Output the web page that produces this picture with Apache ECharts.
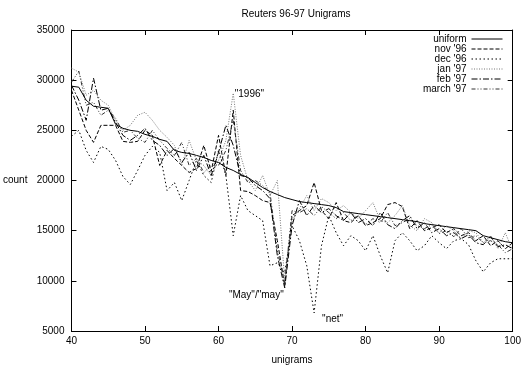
<!DOCTYPE html>
<html lang="en">
  <head>
    <meta charset="UTF-8" />
    <title>Reuters 96-97 Unigrams</title>
    <script src="https://cdn.jsdelivr.net/npm/echarts@6/dist/echarts.min.js"></script>
    <style>
      html, body { margin: 0; padding: 0; background: #fff; }
      #chart { width: 524px; height: 370px; }
    </style>
  </head>
  <body>
    <div id="chart"></div>
    <script>
      // rank on x axis
      const ranks = [40, 41, 42, 43, 44, 45, 46, 47, 48, 49, 50, 51, 52, 53, 54, 55, 56, 57, 58, 59,
        60, 61, 62, 63, 64, 65, 66, 67, 68, 69, 70, 71, 72, 73, 74, 75, 76, 77, 78, 79,
        80, 81, 82, 83, 84, 85, 86, 87, 88, 89, 90, 91, 92, 93, 94, 95, 96, 97, 98, 99, 100];

      const uniform = [29400, 29300, 28000, 27400, 27300, 27200, 25600, 25200, 25000, 24900,
        24600, 24400, 24100, 23900, 23000, 22800, 22700, 22500, 22300, 22000,
        21800, 21300, 21000, 20600, 20300, 19800, 19300, 18900, 18600, 18300,
        18100, 17900, 17800, 17700, 17600, 17500, 17300, 16900, 16800, 16700,
        16600, 16500, 16400, 16300, 16200, 16100, 16000, 15900, 15700, 15600,
        15500, 15400, 15300, 15200, 15100, 15000, 14500, 14300, 14100, 13900, 13800];

      const nov96 = [29000, 27000, 25000, 23800, 25500, 25500, 25500, 23900, 23800, 23900,
        25000, 24500, 21500, 23000, 22200, 21500, 20800, 21200, 23500, 20900,
        24500, 20500, 27000, 19000, 18900, 18500, 18000, 17800, 14000, 9500,
        16500, 17000, 17500, 19800, 17000, 16200, 17800, 16000, 15800, 16500,
        15500, 15800, 16200, 17600, 17800, 17400, 15200, 16000, 15000, 15300,
        15600, 14800, 15200, 14500, 14800, 14000, 14500, 13500, 14000, 13200, 13800];

      const dec96 = [24400, 25000, 23000, 21800, 23400, 23100, 22000, 20400, 19600, 21000,
        22500, 23400, 22800, 19000, 19800, 18000, 20000, 22000, 20500, 19800,
        23000, 20500, 14500, 18500, 17000, 16500, 16000, 11500, 11800, 10800,
        15500, 14000, 11500, 6800, 13500, 16500, 14800, 13500, 14500, 14000,
        13000, 14500, 12500, 10800, 14000, 14800, 14000, 13000, 13500, 14500,
        13800, 13200, 14000, 14200, 13600, 12000, 10900, 11800, 12200, 12200, 12200];

      const jan97 = [31200, 30800, 28500, 29000, 28000, 27500, 26000, 25000, 25500, 26500,
        26800, 26000, 25000, 24300, 23500, 21500, 24000, 22000, 21500, 20500,
        22000, 24000, 28700, 22500, 20000, 19000, 20500, 18500, 20000, 10000,
        16000, 17200, 18500, 17000, 18200, 17800, 17000, 17500, 16800, 16200,
        17000, 17800, 16000, 15800, 16500, 17500, 15500, 15000, 16200, 15800,
        14800, 15500, 15000, 14200, 15000, 14800, 13800, 14500, 13200, 14800, 13000];

      const feb97 = [29500, 28000, 26000, 30200, 27000, 27200, 25800, 24500, 24000, 24500,
        25200, 24000, 23500, 22500, 23200, 21800, 22800, 21000, 22500, 20500,
        22800, 25500, 23500, 20500, 20300, 19500, 19000, 18200, 12500, 9300,
        15500, 18000, 16500, 17500, 16800, 17200, 16500, 16000, 16800, 15800,
        16200, 15500, 16800, 15600, 15200, 16000, 16500, 15200, 15800, 14800,
        15200, 14500, 14800, 14200, 14600, 13800, 13600, 14400, 13400, 13600, 13200];

      const mar97 = [29800, 30900, 27500, 27800, 26500, 27000, 26200, 24800, 25000, 24200,
        23800, 25000, 24000, 23200, 22500, 23800, 21500, 22200, 20800, 21500,
        21500, 23000, 26000, 21000, 19800, 20000, 19500, 18800, 13000, 9800,
        17000, 16800, 17200, 16500, 17400, 16800, 16200, 16800, 16000, 16500,
        15600, 16200, 15800, 16800, 15500, 15800, 16200, 15500, 15200, 15600,
        14700, 15000, 14400, 15200, 14300, 14500, 13800, 14000, 13600, 12800, 13200];

      const seriesNames = ["uniform", "nov '96", "dec '96", "jan '97", "feb '97", "march '97"];
      const seriesValues = [uniform, nov96, dec96, jan97, feb97, mar97];

      // word labels put next to the outliers: [text, x, count, side, gap]
      const notes = [
        ['"1996"', 62.0, 28600, "right", 1],
        ['"May"/"may"', 69.2, 8600, "left", 2],
        ['"net"', 73.2, 6200, "right", 6]
      ];

      const font = "Liberation Sans, Arial, sans-serif";
      const lineTypes = [
        { type: "solid", color: "#000", width: 1 },
        { type: [4, 2], color: "#000", width: 1 },
        { type: [1.5, 2.5], color: "#000", width: 1 },
        { type: [1, 1.5], color: "#777", width: 1 },
        { type: [6, 2, 1.5, 2], color: "#000", width: 1 },
        { type: [4, 2, 1, 2, 1, 2], color: "#333", width: 1 }
      ];

      const chart = echarts.init(document.getElementById("chart"), null, { renderer: "canvas" });

      const series = seriesNames.map((name, i) => ({
        name: name,
        type: "line",
        symbol: "none",
        animation: false,
        data: ranks.map((r, j) => [r, seriesValues[i][j]]),
        lineStyle: lineTypes[i],
        itemStyle: { color: lineTypes[i].color },
        z: i === 0 ? 10 : 2
      }));

      series[2].markPoint = {
        symbol: "circle",
        symbolSize: 1,
        itemStyle: { color: "rgba(0,0,0,0)" },
        animation: false,
        data: notes.map(n => ({
          coord: [n[1], n[2]],
          label: {
            show: true,
            position: n[3],
            distance: n[4],
            formatter: n[0],
            color: "#000",
            fontSize: 10,
            fontFamily: font
          }
        }))
      };

      const tickAxis = {
        axisLine: { show: true, lineStyle: { color: "#000", width: 1 } },
        axisTick: { show: true, inside: true, length: 5, lineStyle: { color: "#000" } },
        splitLine: { show: false }
      };

      const option = {
        backgroundColor: "#fff",
        title: {
          text: "Reuters 96-97 Unigrams",
          left: 291,
          top: 4,
          textAlign: "center",
          textStyle: { fontSize: 10, fontWeight: "normal", color: "#000", fontFamily: font }
        },
        legend: {
          orient: "vertical",
          right: 21,
          top: 34,
          align: "right",
          itemWidth: 31,
          itemHeight: 8,
          itemGap: 0,
          padding: 0,
          itemStyle: { opacity: 0 },
          lineStyle: { width: 1 },
          textStyle: { fontSize: 10, color: "#000", fontFamily: font, lineHeight: 10 },
          data: seriesNames
        },
        grid: { left: 69, right: 10, top: 30, bottom: 33 },
        xAxis: [
          Object.assign({}, tickAxis, {
            type: "value",
            min: 40,
            max: 100,
            interval: 10,
            name: "unigrams",
            nameLocation: "middle",
            nameGap: 24,
            nameTextStyle: { fontSize: 10, color: "#000", fontFamily: font },
            axisLabel: { color: "#000", fontSize: 10, fontFamily: font, margin: 5 }
          }),
          Object.assign({}, tickAxis, {
            type: "value",
            position: "top",
            min: 40,
            max: 100,
            interval: 10,
            axisLabel: { show: false }
          })
        ],
        yAxis: [
          Object.assign({}, tickAxis, {
            type: "value",
            min: 5000,
            max: 35000,
            interval: 5000,
            name: "count",
            nameLocation: "middle",
            nameRotate: 0,
            nameGap: 44,
            nameTextStyle: { fontSize: 10, color: "#000", fontFamily: font, padding: [12, 0, 0, 0] },
            axisLabel: {
              color: "#000", fontSize: 10, fontFamily: font, margin: 7,
              formatter: v => String(v)
            }
          }),
          Object.assign({}, tickAxis, {
            type: "value",
            position: "right",
            min: 5000,
            max: 35000,
            interval: 5000,
            axisLabel: { show: false }
          })
        ],
        series: series
      };

      chart.setOption(option);
    </script>
  </body>
</html>
